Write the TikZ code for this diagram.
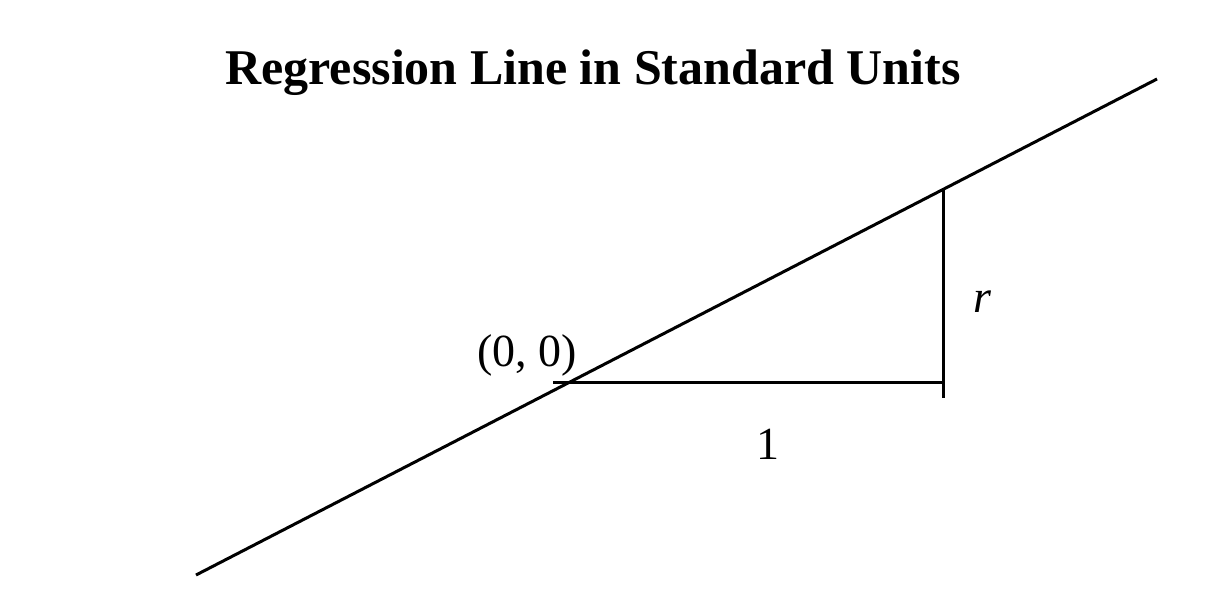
\documentclass[tikz,border=0pt]{standalone}
\usepackage{fontspec}
\setmainfont{Liberation Serif}
\begin{document}
\begin{tikzpicture}[x=0.5pt,y=-0.5pt,
  ln/.style={line width=1.5pt, black},
  lbl/.style={inner sep=0pt, font=\fontsize{23}{27}\selectfont}]
\useasboundingbox (0,0) rectangle (1230,606);
\coordinate (A) at (196,575);
\coordinate (B) at (1157,79);
\coordinate (Hs) at (553,382);
\coordinate (P) at (943,382);
\coordinate (Q) at (943,188);
\coordinate (Qb) at (943,398);
\draw[ln] (A) -- (B);
\draw[ln] (Hs) -- (P);
\draw[ln] (Q) -- (Qb);
\node[inner sep=0pt, font=\fontsize{25}{30}\selectfont\bfseries] (title) at (593,73) {Regression Line in Standard Units};
\node[lbl] (orig) at (527,355) {(0, 0)};
\node[lbl] (r) at (982,302) {\itshape r};
\node[lbl] (one) at (768,444) {1};
\end{tikzpicture}
\end{document}
